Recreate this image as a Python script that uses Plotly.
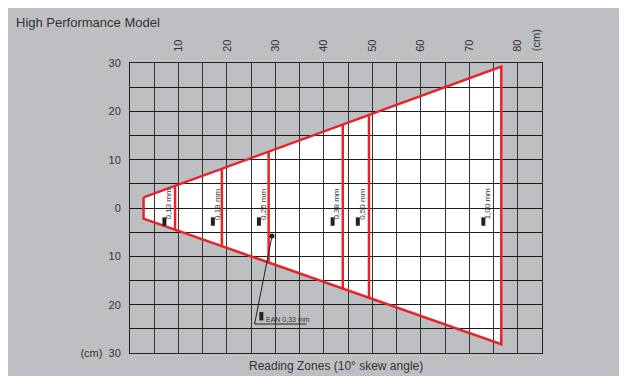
import plotly.graph_objects as go

# outline of the reading cone (cm): top-left, top-right, bottom-right, bottom-left
cone_x = [2.8, 76.6, 76.6, 2.8]
cone_y = [2.2, 29.25, -28.2, -2.2]

# inner zone limits (red verticals) with their upper and lower ends
zone_x = [9.3, 18.95, 28.6, 43.9, 49.3]
zone_top = [4.6, 8.1, 11.7, 17.3, 19.2]
zone_bottom = [-4.5, -7.9, -11.3, -16.7, -18.6]

# module width labels inside each zone
label_text = ["0,13 mm", "0,19 mm", "0,25 mm", "0,38 mm", "0,50 mm", "1,00 mm"]
label_x = [7.9, 17.9, 27.4, 42.6, 47.8, 73.7]
label_y = 0.8
icon_y = -2.8

# EAN pointer: dot, elbow, end of underline
ean_text = "EAN 0,33 mm"
ean_x = [29.3, 25.7, 36.4]
ean_y = [-5.8, -24.0, -24.0]

x_ticks = list(range(0, 90, 5))
x_labels = [str(v) if v % 10 == 0 and 0 < v < 85 else "" for v in x_ticks]
y_ticks = list(range(-30, 35, 5))
y_labels = ["" if v % 10 else str(abs(v)) for v in y_ticks]
y_labels[0] = "(cm)  30"

GRAY = "#bebfc3"
RED = "#e8232a"
TXT = "#333333"
FONT = "Liberation Sans, Arial, sans-serif"

fig = go.Figure()

# red outline of the cone
fig.add_trace(go.Scatter(
    x=cone_x + cone_x[:1], y=cone_y + cone_y[:1], mode="lines",
    line=dict(color=RED, width=2.5), hoverinfo="skip",
))

# red zone separators
vx, vy = [], []
for x, t, b in zip(zone_x, zone_top, zone_bottom):
    vx += [x, x, None]
    vy += [b, t, None]
fig.add_trace(go.Scatter(x=vx, y=vy, mode="lines",
                         line=dict(color=RED, width=2.5), hoverinfo="skip"))

# small bar icons next to labels
fig.add_trace(go.Scatter(
    x=[v - 0.8 for v in label_x] + [ean_x[1] + 1.4],
    y=[icon_y] * len(label_x) + [ean_y[1] + 1.6],
    mode="markers",
    marker=dict(symbol="line-ns", size=6, line=dict(color="#222", width=4)),
    hoverinfo="skip",
))

# EAN pointer line
fig.add_trace(go.Scatter(x=ean_x, y=ean_y, mode="lines",
                         line=dict(color="#222", width=1), hoverinfo="skip"))
fig.add_trace(go.Scatter(x=ean_x[:1], y=ean_y[:1], mode="markers",
                         marker=dict(color="#222", size=5), hoverinfo="skip"))

for t, x in zip(label_text, label_x):
    fig.add_annotation(x=x, y=label_y, text=t, showarrow=False, textangle=-90,
                       font=dict(size=8, color=TXT, family=FONT))
fig.add_annotation(x=ean_x[1] + 2.0, y=ean_y[1] + 0.9, text=ean_text,
                   showarrow=False, xanchor="left",
                   font=dict(size=7, color=TXT, family=FONT))

# white cone fill, under the grid
path = "M " + " L ".join(f"{x},{y}" for x, y in zip(cone_x, cone_y)) + " Z"
fig.add_shape(type="path", path=path, xref="x", yref="y", layer="below",
              fillcolor="white", line=dict(width=0))

fig.add_annotation(x=83.8, y=1 + 10 / 290, xref="x", yref="paper", text="(cm)",
                   showarrow=False, textangle=-90, yanchor="bottom",
                   font=dict(size=11, color=TXT, family=FONT))
fig.add_annotation(x=0.5, y=-13 / 290, xref="paper", yref="paper",
                   text="Reading Zones (10° skew angle)", showarrow=False,
                   yanchor="middle", font=dict(size=12, color=TXT, family=FONT))

fig.update_layout(
    width=627, height=376,
    margin=dict(l=122, r=93, t=55, b=31),
    paper_bgcolor=GRAY, plot_bgcolor=GRAY,
    showlegend=False,
    font=dict(family=FONT, color=TXT, size=11),
    title=dict(text="High Performance Model", x=8 / 627, xanchor="left",
               xref="container", y=1 - 14 / 376, yanchor="middle",
               font=dict(size=13, color=TXT, family=FONT)),
    xaxis=dict(range=[0, 85], side="top", tickvals=x_ticks, ticktext=x_labels,
               tickangle=-90, showgrid=True, gridcolor="#333", gridwidth=1,
               zeroline=False, showline=True, linecolor="#222", mirror=True,
               ticks="", ticklabelstandoff=8),
    yaxis=dict(range=[-30, 30], tickvals=y_ticks, ticktext=y_labels,
               showgrid=True, gridcolor="#1a1a1a", gridwidth=1,
               zeroline=False, showline=True, linecolor="#222", mirror=True,
               ticks="", ticklabelstandoff=6),
)

fig.write_html("out.html")
